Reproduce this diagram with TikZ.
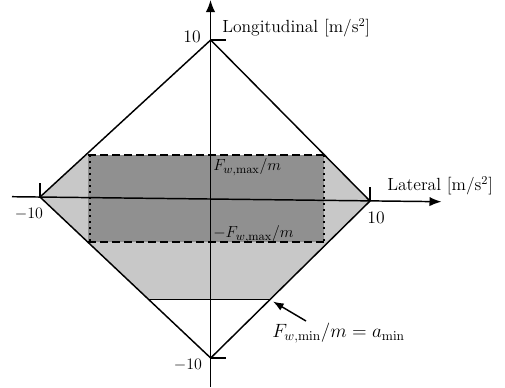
\documentclass[tikz,border=0pt]{standalone}
\usetikzlibrary{arrows.meta}
\definecolor{lightregion}{RGB}{200,200,200}
\definecolor{darkregion}{RGB}{144,144,144}
\tikzset{
  lbl/.style={inner sep=0.75pt, font=\fontsize{13.2}{16}\selectfont},
  axisline/.style={line width=1.1pt, -{Latex[length=9pt,width=7pt]}},
  edge/.style={line width=1.1pt, line join=round},
}
\begin{document}
\begin{tikzpicture}[x=0.75pt,y=0.75pt,yscale=-1]
\useasboundingbox (0,0) rectangle (505,387);

% diamond corners
\coordinate (T) at (210.7,40);
\coordinate (B) at (210.7,358);
\coordinate (L) at (40,197);
\coordinate (R) at (370,201);

% light region (a_min <= a)
\fill [lightregion] (85.7,155) -- (324.5,155) -- (R) -- (270.6,299) -- (148,299) -- (L) -- cycle;
% dark region (|a| <= F_max/m)
\fill [darkregion] (88,155) rectangle (324,242);
\draw [line width=1.1pt, dash pattern=on 6pt off 3pt] (88,155) -- (324,155);
\draw [line width=1.1pt, dash pattern=on 6pt off 3pt] (88,242) -- (324,242);
\draw [line width=1.1pt, dash pattern=on 1.5pt off 3pt] (90,155) -- (90,242);
\draw [line width=1.1pt, dash pattern=on 1.5pt off 3pt] (324,155) -- (324,242);
% a_min line
\draw [line width=0.7pt] (148,299) -- (270.6,299);

% axes
\draw [axisline] (12,196.7) -- (441.5,201.7);
\draw [axisline] (210.5,387) -- (210.5,0);

% diamond
\draw [edge] (T) -- (R) -- (B) -- (L) -- cycle;

% ticks
\draw [line width=1.1pt] (L) -- ++(0,-14);
\draw [line width=1.1pt] (R) -- ++(0,-14);
\draw [line width=1.1pt] (T) -- ++(15,0);
\draw [line width=1.1pt] (B) -- ++(15,0);

% pointer to a_min line
\draw [line width=1.1pt, -{Latex[length=8pt,width=6pt]}] (306,321) -- (273,301.5);

% Text Node
\draw (202,37) node [anchor=east][lbl] {10};
\draw (221,28) node [anchor=west][lbl] {Longitudinal [m/s$^2$]};
\draw (29,214) node [lbl] {$-10$};
\draw (376,218) node [lbl] {10};
\draw (386,186) node [anchor=west][lbl] {Lateral [m/s$^2$]};
\draw (212,167) node [anchor=west][lbl] {$F_{w,\max}/m$};
\draw (212,234) node [anchor=west][lbl] {$-F_{w,\max}/m$};
\draw (188,365) node [lbl] {$-10$};
\draw (271,333) node [anchor=west][lbl, font=\fontsize{14.6}{17}\selectfont] {$F_{w,\min}/m = a_{\min}$};

\end{tikzpicture}
\end{document}
